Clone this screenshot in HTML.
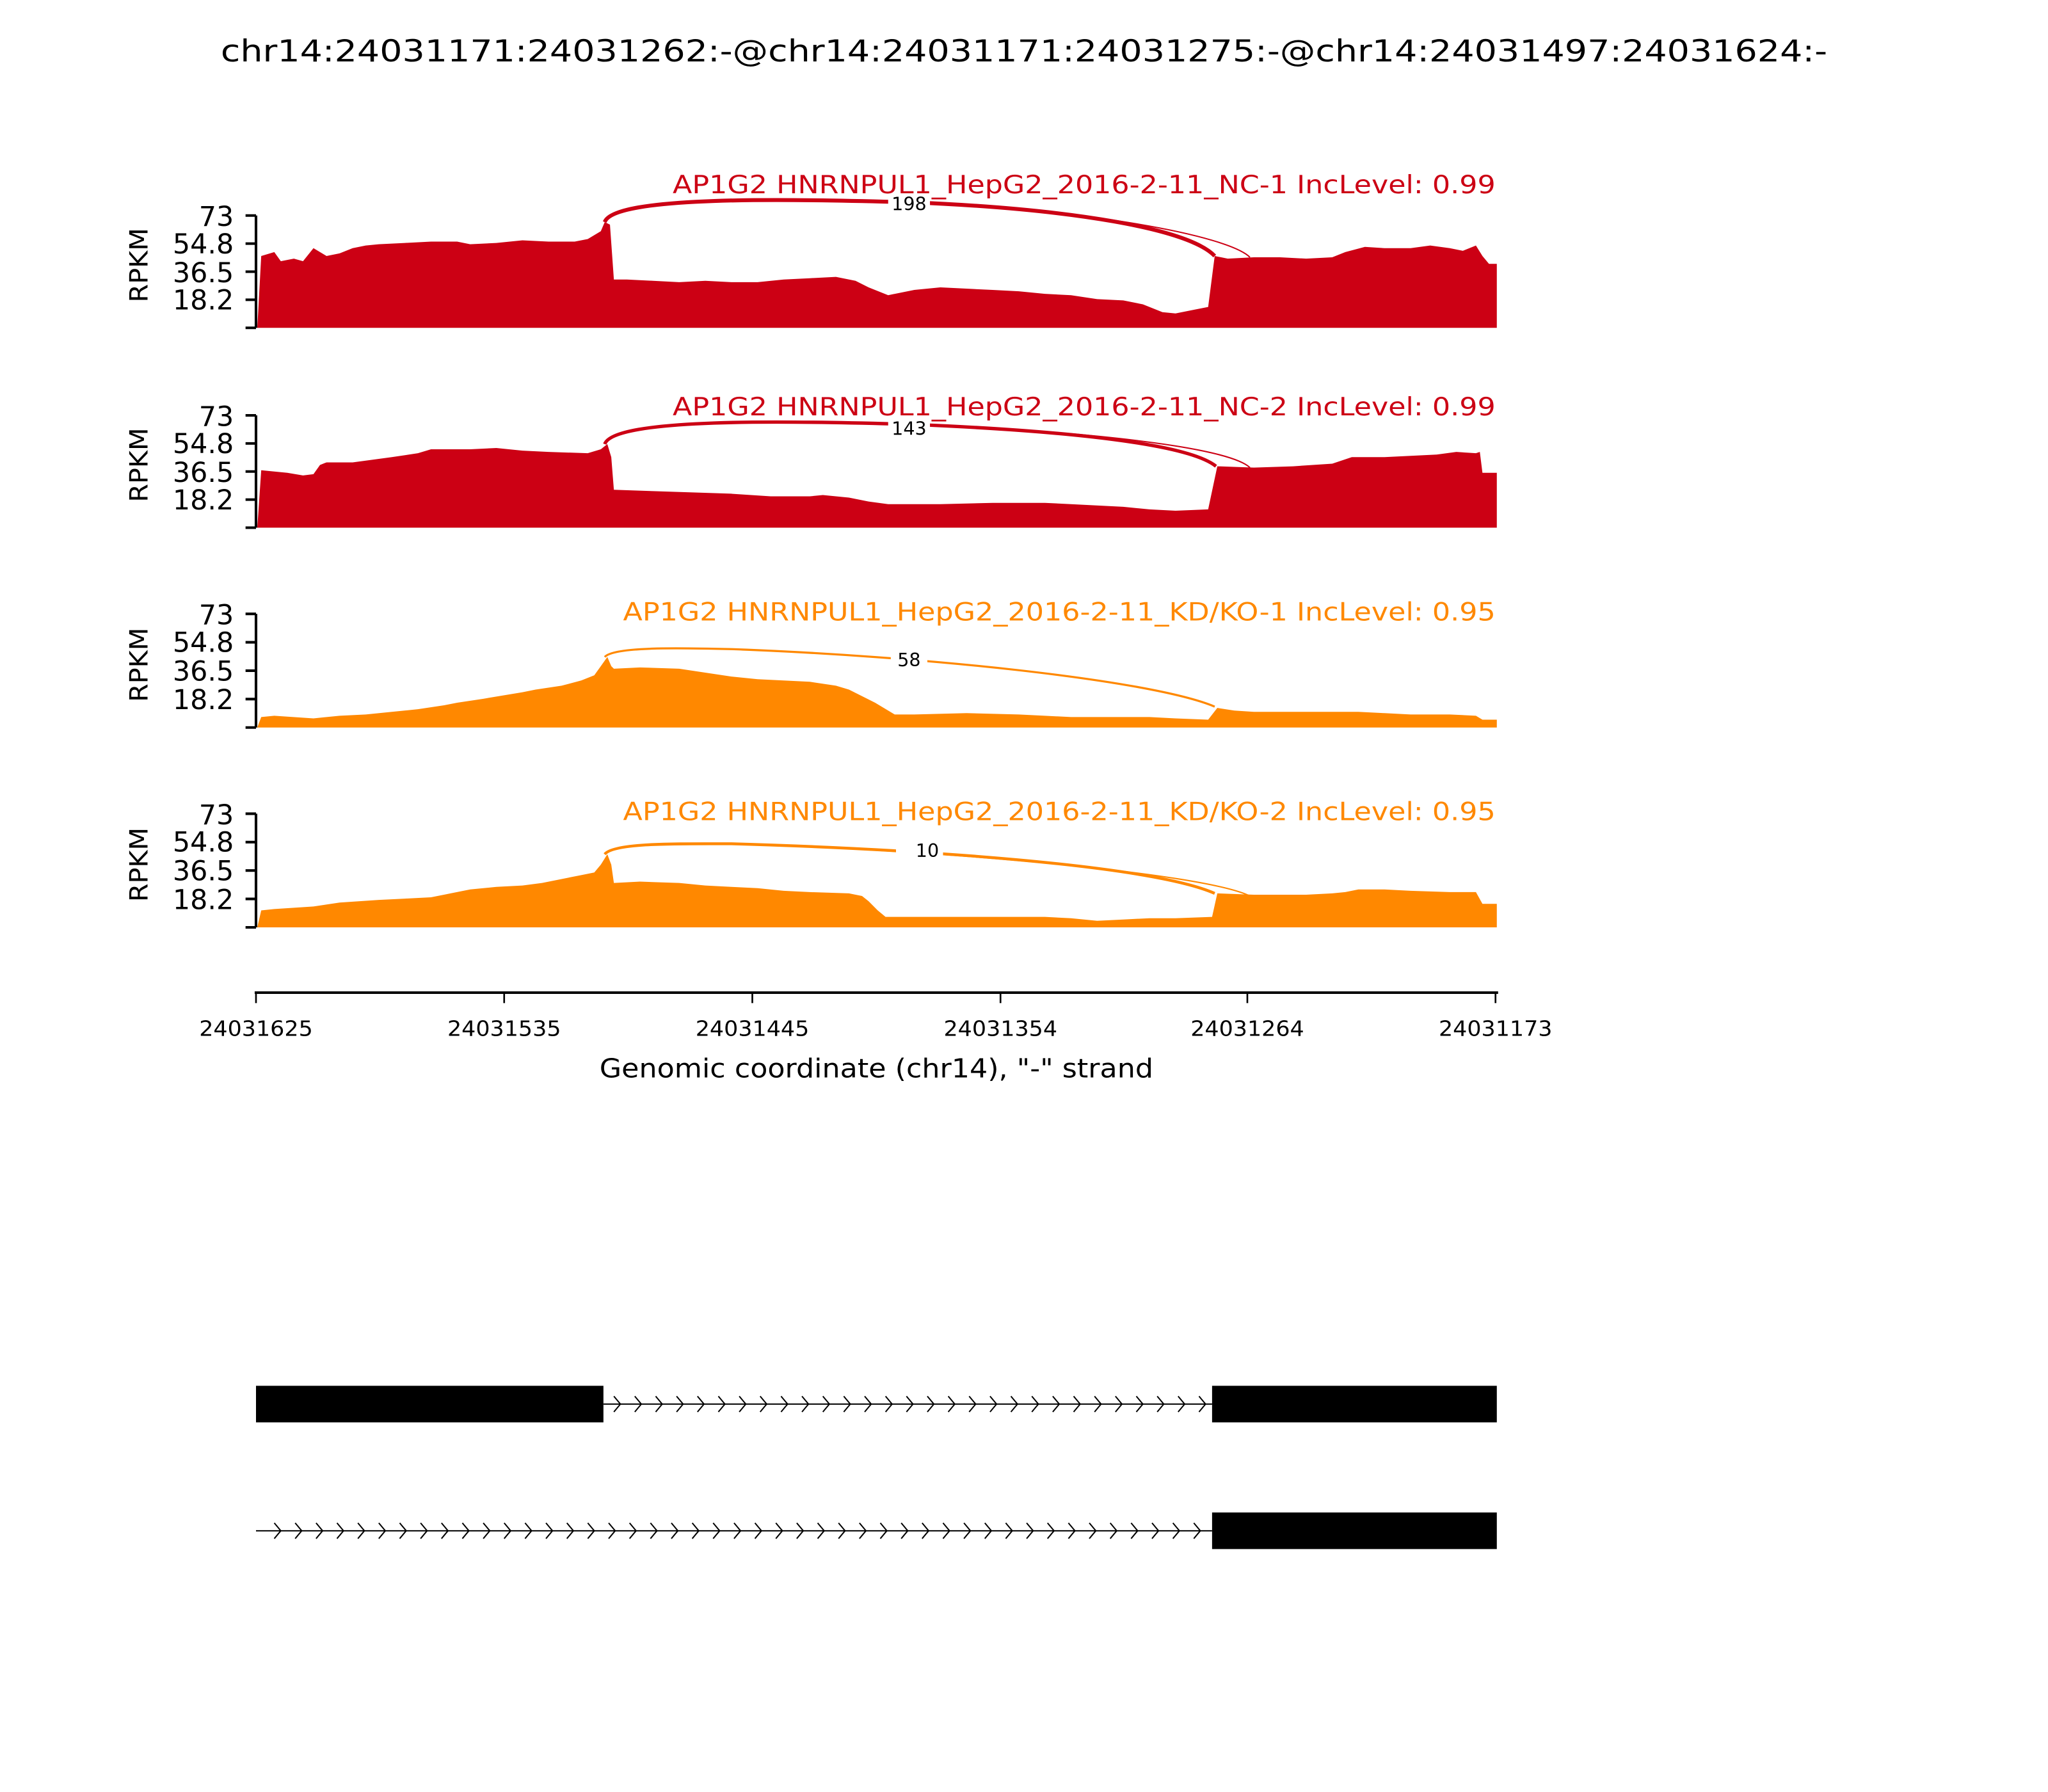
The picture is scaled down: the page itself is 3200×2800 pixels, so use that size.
<!DOCTYPE html>
<html><head><meta charset="utf-8"><style>html,body{margin:0;padding:0;background:#fff;}svg{display:block;}</style></head>
<body>
<svg width="3200" height="2800" viewBox="0 0 1568 1372" xmlns="http://www.w3.org/2000/svg" font-family="'DejaVu Sans','Liberation Sans',sans-serif">
<text x="784" y="47" font-size="23" text-anchor="middle" textLength="1230" lengthAdjust="spacingAndGlyphs">chr14:24031171:24031262:-@chr14:24031171:24031275:-@chr14:24031497:24031624:-</text>

<!-- Panel 1 -->
<g>
<polygon fill="#cc0014" points="197,251 200,196 210,193 215,200 225,198 232,200 240,190 250,196 260,194 270,190 280,188 290,187 310,186 330,185 350,185 360,187 380,186 400,184 420,185 440,185 450,183 460,177 463,170 467,172 470,214 480,214 500,215 520,216 540,215 560,216 580,216 600,214 620,213 640,212 655,215 665,220 680,226 700,222 720,220 740,221 760,222 780,223 800,225 820,226 840,229 860,230 875,233 890,239 900,240 915,237 925,235 930,196 940,198 960,197 980,197 1000,198 1020,197 1030,193 1045,189 1060,190 1080,190 1095,188 1110,190 1120,192 1130,188 1135,196 1140,202 1146,202 1146,251"/>
<path d="M463,170 C470,150 600,152 700,155 C820,160 910,175 930,196" fill="none" stroke="#cc0014" stroke-width="3"/>
<path d="M463,170 C470,150 600,152 700,155 C830,160 940,180 957,197" fill="none" stroke="#cc0014" stroke-width="1"/>
<rect x="680" y="148" width="32" height="16" fill="#fff"/>
<text x="696" y="161" font-size="14" text-anchor="middle">198</text>
<text x="1145" y="148" font-size="19" fill="#cc0014" text-anchor="end" textLength="630" lengthAdjust="spacingAndGlyphs">AP1G2 HNRNPUL1_HepG2_2016-2-11_NC-1 IncLevel: 0.99</text>
<g stroke="#000" stroke-width="2"><line x1="196" y1="165" x2="196" y2="251"/><line x1="188" y1="165" x2="196" y2="165"/><line x1="188" y1="186.5" x2="196" y2="186.5"/><line x1="188" y1="208" x2="196" y2="208"/><line x1="188" y1="229.5" x2="196" y2="229.5"/><line x1="188" y1="251" x2="196" y2="251"/></g>
<g font-size="21" text-anchor="end"><text x="179" y="173">73</text><text x="179" y="194">54.8</text><text x="179" y="216">36.5</text><text x="179" y="237">18.2</text></g>
<text transform="translate(113,203) rotate(-90)" font-size="19" text-anchor="middle" textLength="57" lengthAdjust="spacingAndGlyphs">RPKM</text>
</g>

<!-- Panel 2 -->
<g>
<polygon fill="#cc0014" points="197,404 200,360 210,361 220,362 232,364 240,363 245,356 250,354 270,354 300,350 320,347 330,344 360,344 380,343 400,345 420,346 450,347 460,344 465,340 468,350 470,375 500,376 530,377 560,378 590,380 620,380 630,379 650,381 665,384 680,386 720,386 760,385 800,385 820,386 860,388 880,390 900,391 925,390 932,357 960,358 990,357 1020,355 1035,350 1060,350 1100,348 1115,346 1130,347 1133,346 1135,362 1146,362 1146,404"/>
<path d="M463,340 C470,320 600,322 700,325 C820,330 910,340 931,357" fill="none" stroke="#cc0014" stroke-width="2.6"/>
<path d="M463,340 C470,320 600,322 700,325 C830,330 940,342 957,358" fill="none" stroke="#cc0014" stroke-width="1"/>
<rect x="680" y="320" width="32" height="16" fill="#fff"/>
<text x="696" y="333" font-size="14" text-anchor="middle">143</text>
<text x="1145" y="318" font-size="19" fill="#cc0014" text-anchor="end" textLength="630" lengthAdjust="spacingAndGlyphs">AP1G2 HNRNPUL1_HepG2_2016-2-11_NC-2 IncLevel: 0.99</text>
<g stroke="#000" stroke-width="2"><line x1="196" y1="318" x2="196" y2="404"/><line x1="188" y1="318" x2="196" y2="318"/><line x1="188" y1="339.5" x2="196" y2="339.5"/><line x1="188" y1="361" x2="196" y2="361"/><line x1="188" y1="382.5" x2="196" y2="382.5"/><line x1="188" y1="404" x2="196" y2="404"/></g>
<g font-size="21" text-anchor="end"><text x="179" y="326">73</text><text x="179" y="347">54.8</text><text x="179" y="369">36.5</text><text x="179" y="390">18.2</text></g>
<text transform="translate(113,356) rotate(-90)" font-size="19" text-anchor="middle" textLength="57" lengthAdjust="spacingAndGlyphs">RPKM</text>
</g>

<!-- Panel 3 -->
<g>
<polygon fill="#ff8800" points="197,557 200,549 210,548 240,550 260,548 280,547 300,545 320,543 340,540 350,538 370,535 400,530 410,528 430,525 445,521 455,517 460,510 465,503 468,510 470,512 490,511 520,512 540,515 560,518 580,520 600,521 620,522 640,525 650,528 660,533 670,538 685,547 700,547 740,546 780,547 800,548 820,549 850,549 880,549 900,550 925,551 932,542 945,544 960,545 1000,545 1040,545 1060,546 1080,547 1110,547 1130,548 1135,551 1146,551 1146,557"/>
<path d="M463,503 C470,495 520,496 560,497 C700,502 880,520 930,541" fill="none" stroke="#ff8800" stroke-width="1.6"/>
<rect x="682" y="497" width="28" height="16" fill="#fff"/>
<text x="696" y="510" font-size="14" text-anchor="middle">58</text>
<text x="1145" y="475" font-size="19" fill="#ff8800" text-anchor="end" textLength="668" lengthAdjust="spacingAndGlyphs">AP1G2 HNRNPUL1_HepG2_2016-2-11_KD/KO-1 IncLevel: 0.95</text>
<g stroke="#000" stroke-width="2"><line x1="196" y1="470" x2="196" y2="557"/><line x1="188" y1="470" x2="196" y2="470"/><line x1="188" y1="491.75" x2="196" y2="491.75"/><line x1="188" y1="513.5" x2="196" y2="513.5"/><line x1="188" y1="535.25" x2="196" y2="535.25"/><line x1="188" y1="557" x2="196" y2="557"/></g>
<g font-size="21" text-anchor="end"><text x="179" y="478">73</text><text x="179" y="499">54.8</text><text x="179" y="521">36.5</text><text x="179" y="543">18.2</text></g>
<text transform="translate(113,509) rotate(-90)" font-size="19" text-anchor="middle" textLength="57" lengthAdjust="spacingAndGlyphs">RPKM</text>
</g>

<!-- Panel 4 -->
<g>
<polygon fill="#ff8800" points="197,710 200,697 210,696 240,694 260,691 290,689 310,688 330,687 345,684 360,681 380,679 400,678 415,676 430,673 445,670 455,668 460,662 465,654 468,662 470,676 490,675 520,676 540,678 560,679 580,680 600,682 620,683 650,684 660,686 665,690 672,697 678,702 700,702 720,702 760,702 800,702 820,703 830,704 840,705 860,704 880,703 900,703 928,702 932,684 960,685 1000,685 1020,684 1030,683 1040,681 1060,681 1080,682 1110,683 1130,683 1135,692 1146,692 1146,710"/>
<path d="M463,654 C470,645 520,646 560,646 C700,650 880,662 930,684" fill="none" stroke="#ff8800" stroke-width="2.2"/>
<path d="M463,654 C470,645 520,646 560,646 C720,651 920,668 957,686" fill="none" stroke="#ff8800" stroke-width="1"/>
<rect x="686" y="643" width="36" height="16" fill="#fff"/>
<text x="710" y="656" font-size="14" text-anchor="middle">10</text>
<text x="1145" y="628" font-size="19" fill="#ff8800" text-anchor="end" textLength="668" lengthAdjust="spacingAndGlyphs">AP1G2 HNRNPUL1_HepG2_2016-2-11_KD/KO-2 IncLevel: 0.95</text>
<g stroke="#000" stroke-width="2"><line x1="196" y1="623" x2="196" y2="710"/><line x1="188" y1="623" x2="196" y2="623"/><line x1="188" y1="644.75" x2="196" y2="644.75"/><line x1="188" y1="666.5" x2="196" y2="666.5"/><line x1="188" y1="688.25" x2="196" y2="688.25"/><line x1="188" y1="710" x2="196" y2="710"/></g>
<g font-size="21" text-anchor="end"><text x="179" y="631">73</text><text x="179" y="652">54.8</text><text x="179" y="674">36.5</text><text x="179" y="696">18.2</text></g>
<text transform="translate(113,662) rotate(-90)" font-size="19" text-anchor="middle" textLength="57" lengthAdjust="spacingAndGlyphs">RPKM</text>
</g>

<!-- X axis -->
<g stroke="#000"><line x1="195" y1="760" x2="1147" y2="760" stroke-width="2"/>
<line x1="196" y1="760" x2="196" y2="768" stroke-width="1.3"/><line x1="386" y1="760" x2="386" y2="768" stroke-width="1.3"/><line x1="576" y1="760" x2="576" y2="768" stroke-width="1.3"/><line x1="766" y1="760" x2="766" y2="768" stroke-width="1.3"/><line x1="955" y1="760" x2="955" y2="768" stroke-width="1.3"/><line x1="1145" y1="760" x2="1145" y2="768" stroke-width="1.3"/></g>
<g font-size="16" text-anchor="middle"><text x="196" y="793" textLength="87" lengthAdjust="spacingAndGlyphs">24031625</text><text x="386" y="793" textLength="87" lengthAdjust="spacingAndGlyphs">24031535</text><text x="576" y="793" textLength="87" lengthAdjust="spacingAndGlyphs">24031445</text><text x="766" y="793" textLength="87" lengthAdjust="spacingAndGlyphs">24031354</text><text x="955" y="793" textLength="87" lengthAdjust="spacingAndGlyphs">24031264</text><text x="1145" y="793" textLength="87" lengthAdjust="spacingAndGlyphs">24031173</text></g>
<text x="671" y="825" font-size="20" text-anchor="middle" textLength="424" lengthAdjust="spacingAndGlyphs">Genomic coordinate (chr14), "-" strand</text>

<!-- Gene models -->
<g fill="#000">
<rect x="196" y="1061" width="266" height="28"/>
<rect x="928" y="1061" width="218" height="28"/>
<rect x="928" y="1158" width="218" height="28"/>
</g>
<line x1="462" y1="1075" x2="928" y2="1075" stroke="#000" stroke-width="1"/>
<line x1="196" y1="1172" x2="928" y2="1172" stroke="#000" stroke-width="1"/>
<g fill="none" stroke="#000" stroke-width="1">
<path d="M470,1069 l5,6 l-5,6 M486,1069 l5,6 l-5,6 M502,1069 l5,6 l-5,6 M518,1069 l5,6 l-5,6 M534,1069 l5,6 l-5,6 M550,1069 l5,6 l-5,6 M566,1069 l5,6 l-5,6 M582,1069 l5,6 l-5,6 M598,1069 l5,6 l-5,6 M614,1069 l5,6 l-5,6 M630,1069 l5,6 l-5,6 M646,1069 l5,6 l-5,6 M662,1069 l5,6 l-5,6 M678,1069 l5,6 l-5,6 M694,1069 l5,6 l-5,6 M710,1069 l5,6 l-5,6 M726,1069 l5,6 l-5,6 M742,1069 l5,6 l-5,6 M758,1069 l5,6 l-5,6 M774,1069 l5,6 l-5,6 M790,1069 l5,6 l-5,6 M806,1069 l5,6 l-5,6 M822,1069 l5,6 l-5,6 M838,1069 l5,6 l-5,6 M854,1069 l5,6 l-5,6 M870,1069 l5,6 l-5,6 M886,1069 l5,6 l-5,6 M902,1069 l5,6 l-5,6 M918,1069 l5,6 l-5,6"/>
<path d="M210,1166 l5,6 l-5,6 M226,1166 l5,6 l-5,6 M242,1166 l5,6 l-5,6 M258,1166 l5,6 l-5,6 M274,1166 l5,6 l-5,6 M290,1166 l5,6 l-5,6 M306,1166 l5,6 l-5,6 M322,1166 l5,6 l-5,6 M338,1166 l5,6 l-5,6 M354,1166 l5,6 l-5,6 M370,1166 l5,6 l-5,6 M386,1166 l5,6 l-5,6 M402,1166 l5,6 l-5,6 M418,1166 l5,6 l-5,6 M434,1166 l5,6 l-5,6 M450,1166 l5,6 l-5,6 M466,1166 l5,6 l-5,6 M482,1166 l5,6 l-5,6 M498,1166 l5,6 l-5,6 M514,1166 l5,6 l-5,6 M530,1166 l5,6 l-5,6 M546,1166 l5,6 l-5,6 M562,1166 l5,6 l-5,6 M578,1166 l5,6 l-5,6 M594,1166 l5,6 l-5,6 M610,1166 l5,6 l-5,6 M626,1166 l5,6 l-5,6 M642,1166 l5,6 l-5,6 M658,1166 l5,6 l-5,6 M674,1166 l5,6 l-5,6 M690,1166 l5,6 l-5,6 M706,1166 l5,6 l-5,6 M722,1166 l5,6 l-5,6 M738,1166 l5,6 l-5,6 M754,1166 l5,6 l-5,6 M770,1166 l5,6 l-5,6 M786,1166 l5,6 l-5,6 M802,1166 l5,6 l-5,6 M818,1166 l5,6 l-5,6 M834,1166 l5,6 l-5,6 M850,1166 l5,6 l-5,6 M866,1166 l5,6 l-5,6 M882,1166 l5,6 l-5,6 M898,1166 l5,6 l-5,6 M914,1166 l5,6 l-5,6"/>
</g>
</svg>
</body></html>
